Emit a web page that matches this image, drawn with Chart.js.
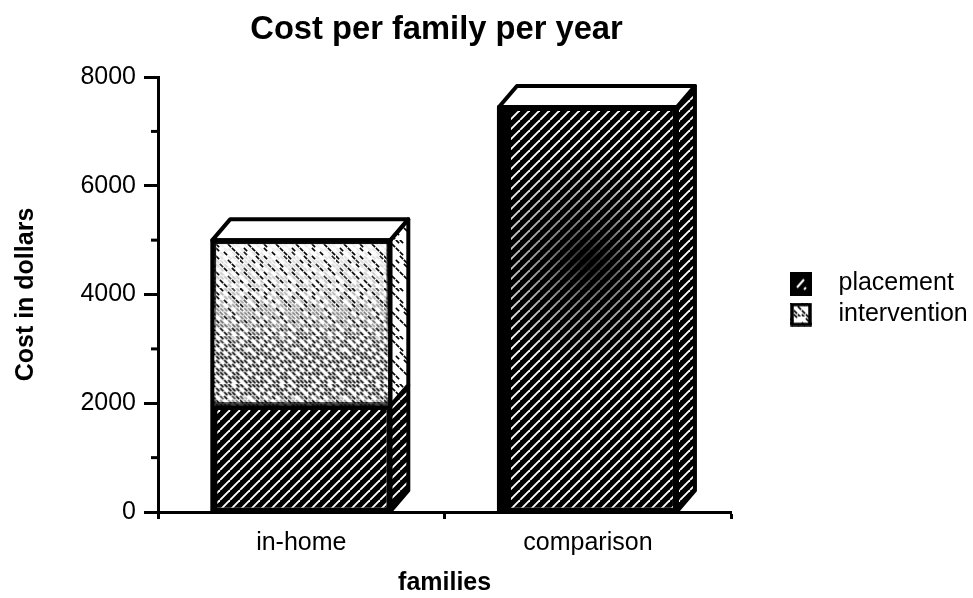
<!DOCTYPE html>
<html><head><meta charset="utf-8">
<style>html,body{margin:0;padding:0;background:#fff}#w{width:973px;height:598px;position:relative}</style>
<script src="https://cdn.jsdelivr.net/npm/chart.js@4/dist/chart.umd.js"></script>
</head><body><div id="w"><canvas id="c" width="973" height="598"></canvas></div>
<script>
const titleText = 'Cost per family per year';
const xTitle = 'families';
const yTitle = 'Cost in dollars';
const categories = ['in-home', 'comparison'];
const placement = [1950, 7450];
const intervention = [3050, 0];
const yMajorStep = 2000;
const yMinorTicks = [1000, 3000, 5000, 7000];
const FONT = '"Liberation Sans", Arial, sans-serif';
const INK = '#000';
const DX = 18, DY = 21;

function tile(w, h, paint) {
  const t = document.createElement('canvas'); t.width = w; t.height = h;
  paint(t.getContext('2d'), w, h); return t;
}
const hatchTile = tile(10, 10, (g, w, h) => {
  g.fillStyle = INK; g.fillRect(0, 0, w, h);
  g.strokeStyle = '#fff'; g.lineWidth = 1.9;
  for (const o of [-10, 0, 10]) { g.beginPath(); g.moveTo(o, h); g.lineTo(o + w, 0); g.stroke(); }
});
const sparseMask = ['100110010010','001000100100','010100100010','010010001001','100010100001','100101000100','001001010010','010100001010','010010100001','001001000100','100100010010','001000101000'];
const denseMask  = ['101110110111','011011101101','110111011110','101101110011','111011011101','011110101111','110101111010','101111010111','011010111101','111101101011','101011110110','110110101111'];
function stipple(mask) {
  return tile(48, 48, (g, w, h) => {
    g.fillStyle = '#fff'; g.fillRect(0, 0, w, h);
    g.strokeStyle = INK; g.lineWidth = 1.7; g.lineCap = 'square';
    mask.forEach((row, r) => [...row].forEach((b, c) => {
      if (b === '1') { const x = c * 4, y = r * 4; g.beginPath(); g.moveTo(x + .5, y + .5); g.lineTo(x + 2.5, y + 2.5); g.stroke(); }
    }));
  });
}
const sparseTile = stipple(sparseMask), denseTile = stipple(denseMask);
const scratch = document.createElement('canvas').getContext('2d');
const hatchFill = scratch.createPattern(hatchTile, 'repeat');
const sparseFill = scratch.createPattern(sparseTile, 'repeat');

const legendHatch = tile(22, 24, (g, w, h) => {
  g.fillStyle = INK; g.fillRect(0, 0, w, h);
  g.strokeStyle = '#fff'; g.lineWidth = 2;
  g.beginPath(); g.moveTo(7, 16); g.lineTo(14, 8); g.stroke();
  g.beginPath(); g.moveTo(14, 18); g.lineTo(16, 16); g.stroke();
});
const legendStipple = tile(22, 24, (g, w, h) => {
  g.fillStyle = g.createPattern(sparseTile, 'repeat'); g.fillRect(0, 0, w, h);
  g.fillStyle = g.createPattern(denseTile, 'repeat'); g.fillRect(7, 8, 8, 6);
  g.strokeStyle = INK; g.lineWidth = 3.5; g.strokeRect(2, 2, w - 4, h - 4);
});

function poly(ctx, pts, fill) {
  ctx.beginPath(); pts.forEach((p, i) => i ? ctx.lineTo(p[0], p[1]) : ctx.moveTo(p[0], p[1])); ctx.closePath();
  if (fill) { ctx.fillStyle = fill; ctx.fill(); }
  ctx.lineWidth = 4; ctx.lineJoin = 'round'; ctx.strokeStyle = INK; ctx.stroke();
}

const boxPlugin = {
  id: 'box3d',
  afterLayout(chart) {
    const lg = chart.legend; lg.left = 770; lg.right = 973; lg.width = 203;
    chart.titleBlock.right = 873;
  },
  afterDatasetsDraw(chart) {
    const ctx = chart.ctx, yScale = chart.scales.y;
    ctx.save();
    // minor ticks on the value axis
    ctx.strokeStyle = INK; ctx.lineWidth = 3;
    yMinorTicks.forEach(v => {
      const y = yScale.getPixelForValue(v);
      ctx.beginPath(); ctx.moveTo(chart.chartArea.left - 7, y); ctx.lineTo(chart.chartArea.left, y); ctx.stroke();
    });
    categories.forEach((_, i) => {
      const a = chart.getDatasetMeta(0).data[i], b = chart.getDatasetMeta(1).data[i];
      const L = a.x - a.width / 2, R = a.x + a.width / 2, base = a.base, mid = a.y;
      const top = intervention[i] > 0 ? b.y : a.y;
      // shading inside the front face
      ctx.save();
      ctx.beginPath(); ctx.rect(L, top, R - L, base - top); ctx.clip();
      if (intervention[i] > 0) {
        const off = tile(Math.ceil(R - L), Math.ceil(mid - top), (g, w, h) => {
          g.fillStyle = g.createPattern(denseTile, 'repeat'); g.fillRect(0, 0, w, h);
          g.globalCompositeOperation = 'destination-in';
          const gr = g.createLinearGradient(0, 0, 0, h);
          gr.addColorStop(0, 'rgba(0,0,0,.05)'); gr.addColorStop(.35, 'rgba(0,0,0,.35)');
          gr.addColorStop(.7, 'rgba(0,0,0,1)'); gr.addColorStop(.93, 'rgba(0,0,0,1)'); gr.addColorStop(1, 'rgba(0,0,0,.1)');
          g.fillStyle = gr; g.fillRect(0, 0, w, h);
        });
        ctx.drawImage(off, L, top);
      } else {
        const cx = (L + R) / 2, cy = top + (base - top) * .38;
        const gr = ctx.createRadialGradient(cx, cy, 5, cx, cy, 110);
        gr.addColorStop(0, 'rgba(0,0,0,.85)'); gr.addColorStop(.3, 'rgba(0,0,0,.5)'); gr.addColorStop(1, 'rgba(0,0,0,0)');
        ctx.fillStyle = gr; ctx.fillRect(L, top, R - L, base - top);
      }
      ctx.fillStyle = INK;
      const band = intervention[i] > 0 ? 5 : 12;
      ctx.fillRect(L, mid, band, base - mid);
      ctx.restore();
      // side faces
      poly(ctx, [[R, base], [R + DX, base - DY], [R + DX, mid - DY], [R, mid]], hatchFill);
      if (intervention[i] > 0) poly(ctx, [[R, mid], [R + DX, mid - DY], [R + DX, top - DY], [R, top]], sparseFill);
      // top face
      poly(ctx, [[L, top], [L + DX, top - DY], [R + DX, top - DY], [R, top]], '#fff');
      // front outline
      ctx.lineWidth = 4; ctx.strokeStyle = INK; ctx.strokeRect(L, top, R - L, base - top);
    });
    ctx.restore();
  }
};

new Chart(document.getElementById('c'), {
  type: 'bar',
  data: {
    labels: categories,
    datasets: [
      { label: 'placement', data: placement, backgroundColor: hatchFill, borderColor: INK, borderWidth: 4, borderSkipped: false, stack: 's', categoryPercentage: 1, barPercentage: .621 },
      { label: 'intervention', data: intervention, backgroundColor: sparseFill, borderColor: INK, borderWidth: 4, borderSkipped: false, stack: 's', categoryPercentage: 1, barPercentage: .621 }
    ]
  },
  plugins: [boxPlugin],
  options: {
    responsive: false, animation: false,
    layout: { padding: { right: 34 } },
    font: { family: FONT },
    plugins: {
      tooltip: { enabled: false },
      title: { display: true, text: titleText, color: INK, font: { family: FONT, size: 32.7, weight: 'bold' }, padding: { top: 10, bottom: 27.8 } },
      legend: {
        position: 'right',
        labels: {
          color: INK, font: { family: FONT, size: 25 }, usePointStyle: true, pointStyleWidth: 50, padding: 6,
          generateLabels: () => [
            { text: 'placement', fontColor: INK, fillStyle: INK, pointStyle: legendHatch, datasetIndex: 0, lineWidth: 0 },
            { text: 'intervention', fontColor: INK, fillStyle: INK, pointStyle: legendStipple, datasetIndex: 1, lineWidth: 0 }
          ]
        }
      }
    },
    scales: {
      x: {
        stacked: true,
        afterFit(s) { s.height = 86; },
        grid: { offset: true, drawOnChartArea: false, tickColor: INK, tickWidth: 3, tickLength: 7 },
        border: { color: INK, width: 3 },
        ticks: { color: INK, font: { family: FONT, size: 25 }, padding: 9, maxRotation: 0 },
        title: { display: true, text: xTitle, color: INK, font: { family: FONT, size: 25, weight: 'bold' }, padding: { top: 0, bottom: 0 } }
      },
      y: {
        stacked: true, min: 0, max: 8000,
        afterFit(s) { s.width = 158; },
        grid: { drawOnChartArea: false, tickColor: INK, tickWidth: 3, tickLength: 14 },
        border: { color: INK, width: 3 },
        ticks: { color: INK, font: { family: FONT, size: 25 }, stepSize: yMajorStep, padding: 8, callback: v => String(v) },
        title: { display: true, text: yTitle, color: INK, font: { family: FONT, size: 25, weight: 'bold' }, padding: { top: 11, bottom: 0 } }
      }
    }
  }
});
</script></body></html>
